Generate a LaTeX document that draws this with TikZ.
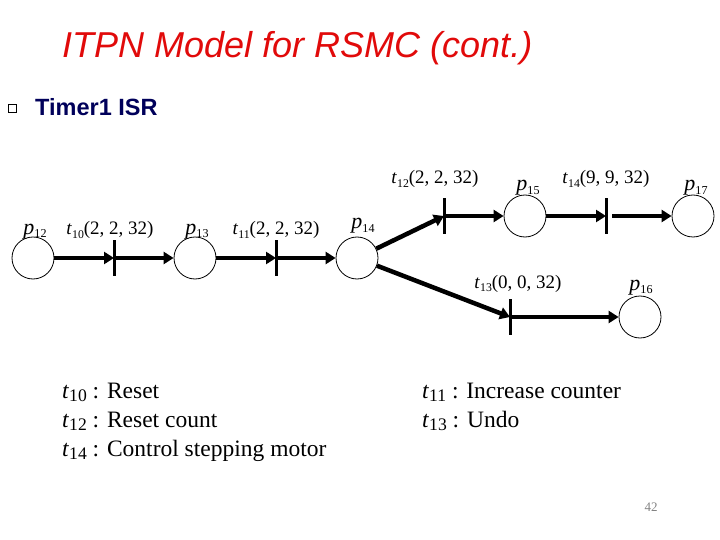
\documentclass[tikz,border=0pt]{standalone}
\usepackage{fontspec}
\setmainfont{Liberation Serif}
\newfontfamily\arialfont{Liberation Sans}
\usetikzlibrary{arrows.meta}
\newcommand\sbs[2][0.62]{\raisebox{-0.35ex}{\scalebox{#1}{#2}}}
\definecolor{titlered}{RGB}{225,10,10}
\definecolor{navy}{RGB}{0,0,90}
\definecolor{pggray}{RGB}{130,130,130}
\tikzset{
  place/.style={circle,draw,line width=0.8pt,minimum size=42pt,inner sep=0pt},
  trans/.style={rectangle,fill=black,minimum width=3pt,minimum height=36pt,inner sep=0pt},
  arc/.style={line width=4.5pt,-{Triangle[length=10pt,width=12pt]}},
  lbl/.style={anchor=base,inner sep=0pt,font=\fontsize{19}{22}\selectfont},
  plbl/.style={anchor=base,inner sep=0pt,font=\fontsize{22}{24}\selectfont},
  legend/.style={anchor=base west,inner sep=0pt,font=\fontsize{23.5}{29}\selectfont},
}
\begin{document}
\begin{tikzpicture}[x=1pt,y=-1pt]
\useasboundingbox (0,0) rectangle (720,540);
% title
\node[anchor=base west,inner sep=0pt,text=titlered,font=\arialfont\itshape\fontsize{36}{40}\selectfont] (title) at (62,58) {ITPN Model for RSMC (cont.)};
\node[draw,line width=0.9pt,minimum size=8pt,inner sep=0pt] (bullet) at (12,108) {};
\node[anchor=base west,inner sep=0pt,text=navy,font=\arialfont\bfseries\fontsize{23.5}{26}\selectfont] (sub) at (35,116) {Timer1 ISR};
% places
\node[place] (p12) at (33,258) {};
\node[place] (p13) at (195,258) {};
\node[place] (p14) at (357,258) {};
\node[place] (p15) at (525,216) {};
\node[place] (p17) at (693,216) {};
\node[place] (p16) at (640,317) {};
% transitions
\node[trans] (t10) at (114,258) {};
\node[trans] (t11) at (276,258) {};
\node[trans] (t12) at (444,216) {};
\node[trans] (t14) at (606,216) {};
\node[trans] (t13) at (510,317) {};
% arcs
\draw[arc] (p12) -- (t10.center);
\draw[arc] (t10.center) -- (p13);
\draw[arc] (p13) -- (t11.center);
\draw[arc] (t11.center) -- (p14);
\draw[arc] (p14) -- (t12.center);
\draw[arc] (t12.center) -- (p15);
\draw[arc] (p15) -- (t14.center);
\draw[arc,shorten <=6pt] (t14.center) -- (p17);
\draw[arc] (p14) -- (t13.center);
\draw[arc] (t13.center) -- (p16);
% labels
\node[plbl] (lp12) at (35,234) {\textit{p}\sbs[0.55]{12}};
\node[lbl] (lt10) at (110,235) {\textit{t}\sbs{10}(2, 2, 32)};
\node[plbl] (lp13) at (197,234) {\textit{p}\sbs[0.55]{13}};
\node[lbl] (lt11) at (276,235) {\textit{t}\sbs{11}(2, 2, 32)};
\node[plbl] (lp14) at (363,229) {\textit{p}\sbs[0.55]{14}};
\node[lbl] (lt12) at (435,184) {\textit{t}\sbs{12}(2, 2, 32)};
\node[plbl] (lp15) at (528,191) {\textit{p}\sbs[0.55]{15}};
\node[lbl] (lt14) at (606,184) {\textit{t}\sbs{14}(9, 9, 32)};
\node[plbl] (lp17) at (696,191) {\textit{p}\sbs[0.55]{17}};
\node[lbl] (lt13) at (518,288) {\textit{t}\sbs{13}(0, 0, 32)};
\node[plbl] (lp16) at (641,290) {\textit{p}\sbs[0.55]{16}};
% legend
\node[legend] (leg1) at (62,398) {\textit{t}\sbs[0.75]{10} : Reset};
\node[legend] (leg2) at (62,427) {\textit{t}\sbs[0.75]{12} : Reset count};
\node[legend] (leg3) at (62,456) {\textit{t}\sbs[0.75]{14} : Control stepping motor};
\node[legend] (leg4) at (422,398) {\textit{t}\sbs[0.75]{11} : Increase counter};
\node[legend] (leg5) at (422,427) {\textit{t}\sbs[0.75]{13} : Undo};
\node[anchor=base,inner sep=0pt,text=pggray,font=\fontsize{13}{15}\selectfont] (page) at (651,511) {42};
\end{tikzpicture}
\end{document}
